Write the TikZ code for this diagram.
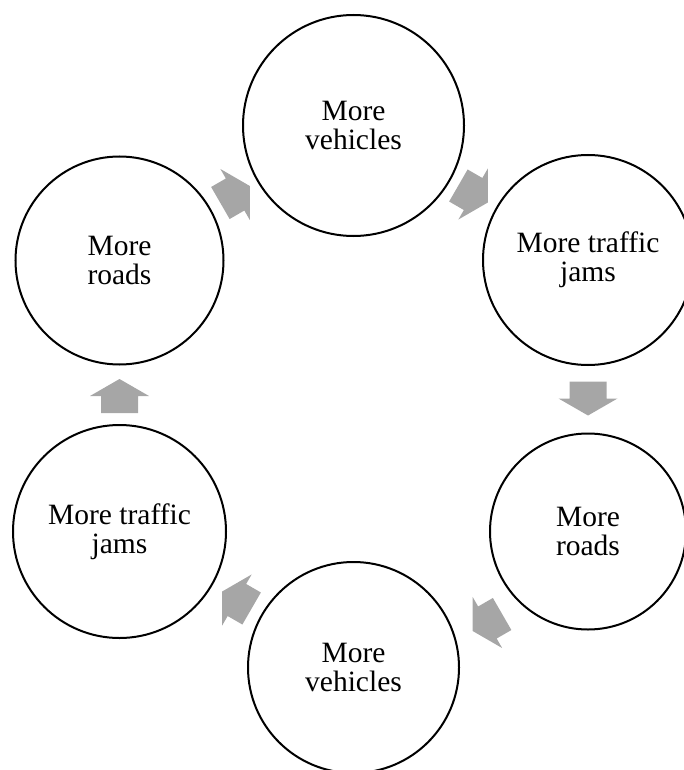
\documentclass[tikz,border=0pt]{standalone}
\usepackage{fontspec}
\setmainfont{Liberation Serif}
\definecolor{arrowgray}{RGB}{166,166,166}
\begin{document}
\begin{tikzpicture}[x=1pt,y=-1pt,
  cyc/.style={circle, draw=black, line width=2pt, inner sep=0pt, align=center,
    font=\fontsize{29.5}{28.5}\selectfont},
  blockarrow/.pic={\fill[arrowgray] (-17,-18.5) -- (0,-18.5) -- (0,-29.5) -- (17,0)
    -- (0,29.5) -- (0,18.5) -- (-17,18.5) -- cycle;}]
\useasboundingbox (0,0) rectangle (684,770);
\clip (0,0) rectangle (684,770);
\node[cyc, minimum size=221pt] (A) at (353.5,125.5) {More\\vehicles};
\node[cyc, minimum size=210pt] (B) at (588,260) {More traffic\\jams};
\node[cyc, minimum size=196pt] (C) at (588,531.5) {More\\roads};
\node[cyc, minimum size=211pt] (D) at (353.5,667.5) {More\\vehicles};
\node[cyc, minimum size=213pt] (E) at (119.5,531.5) {More traffic\\jams};
\node[cyc, minimum size=208pt] (F) at (119.5,260.5) {More\\roads};
\pic[rotate=30] at (235.1,194.5) {blockarrow};
\pic[rotate=-30] at (473.1,194) {blockarrow};
\pic[rotate=-90] at (588,398.5) {blockarrow};
\pic[rotate=-150] at (487.4,622.5) {blockarrow};
\pic[rotate=150] at (236.9,600) {blockarrow};
\pic[rotate=90] at (119.5,396) {blockarrow};
\end{tikzpicture}
\end{document}
